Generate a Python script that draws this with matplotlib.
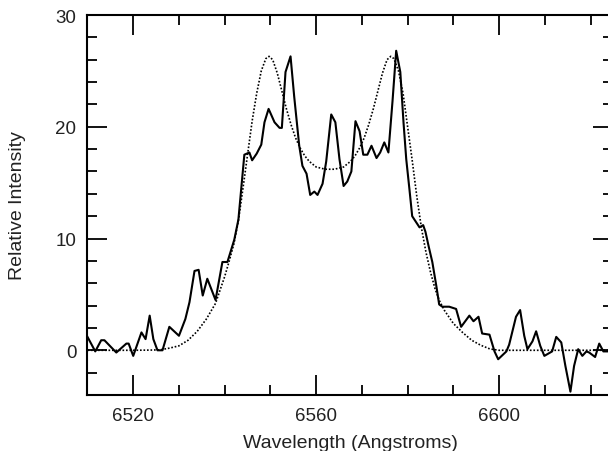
import matplotlib
matplotlib.use("Agg")
import matplotlib.pyplot as plt
from matplotlib.ticker import MultipleLocator

plt.rcParams['font.family'] = ['Liberation Sans', 'DejaVu Sans']

# observed spectrum (solid line)
obs_wave = [
    6510.0, 6511.7, 6513.0, 6513.7, 6516.3, 6518.5, 6519.0, 6520.0, 6521.8, 6522.7,
    6523.6, 6524.4, 6525.3, 6526.4, 6527.9, 6530.0, 6531.4, 6532.3, 6533.4, 6534.3,
    6535.2, 6536.2, 6538.0, 6539.5, 6540.6, 6542.1, 6543.0, 6544.3, 6545.4, 6546.0,
    6547.0, 6548.0, 6548.7, 6549.6, 6550.9, 6552.0, 6552.5, 6553.3, 6554.4, 6555.2,
    6556.3, 6557.0, 6557.9, 6558.7, 6559.6, 6560.3, 6561.4, 6562.2, 6563.3, 6564.2,
    6565.1, 6566.0, 6566.8, 6567.7, 6568.6, 6569.5, 6570.3, 6571.2, 6572.1, 6573.2,
    6574.0, 6574.9, 6575.8, 6576.7, 6577.5, 6578.4, 6579.1, 6579.7, 6580.4, 6581.0,
    6581.8, 6582.6, 6583.4, 6583.9, 6584.6, 6585.4, 6586.3, 6586.9, 6587.6, 6589.1,
    6590.6, 6591.7, 6593.5, 6594.4, 6595.5, 6596.3, 6597.9, 6599.0, 6599.8, 6601.6,
    6602.2, 6603.7, 6604.6, 6605.5, 6606.2, 6607.3, 6608.1, 6609.0, 6609.9, 6611.6,
    6612.5, 6613.6, 6614.5, 6615.6, 6616.4, 6617.3, 6618.2, 6619.1, 6619.7, 6621.0,
    6621.9, 6622.8, 6625.0,
]
obs_flux = [
    1.2, -0.1, 0.9, 0.9, -0.2, 0.6, 0.6, -0.5, 1.6, 1.0,
    3.1, 1.0, 0.0, 0.0, 2.1, 1.3, 2.8, 4.3, 7.1, 7.2,
    4.9, 6.4, 4.5, 7.9, 7.9, 9.9, 11.7, 17.5, 17.7, 17.0,
    17.6, 18.4, 20.4, 21.6, 20.4, 19.9, 19.9, 24.9, 26.3, 22.7,
    18.3, 16.5, 15.8, 13.9, 14.2, 13.9, 14.9, 16.9, 21.1, 20.4,
    17.1, 14.7, 15.1, 16.0, 20.5, 19.6, 17.5, 17.5, 18.3, 17.2,
    17.7, 18.6, 17.7, 22.3, 26.8, 24.9, 20.4, 17.1, 14.4, 12.0,
    11.5, 11.0, 11.2, 10.6, 9.3, 7.9, 5.7, 4.1, 3.9, 3.9,
    3.7, 2.1, 3.1, 2.6, 3.0, 1.5, 1.4, -0.1, -0.8, -0.1,
    0.5, 3.0, 3.6, 1.3, 0.1, 0.8, 1.7, 0.4, -0.5, -0.1,
    1.2, 0.7, -1.4, -3.7, -1.4, 0.1, -0.5, -0.1, -0.2, -0.6,
    0.6, -0.1, -0.1,
]

# model profile (dotted line)
model_wave = [
    6510, 6520, 6524, 6526, 6528, 6530, 6532, 6534, 6536, 6538,
    6540, 6541, 6542, 6543, 6544, 6545, 6546, 6547, 6548, 6549,
    6549.7, 6550.5, 6551.5, 6552.5, 6553.5, 6554.5, 6555.5, 6556.5, 6557.5, 6558.5,
    6560, 6562, 6564, 6566, 6567.5, 6568.5, 6569.5, 6570.5, 6571.5, 6572.5,
    6573.5, 6574.5, 6575.5, 6576.3, 6577, 6578, 6579, 6580, 6581, 6582,
    6583, 6584, 6585, 6586, 6587, 6588, 6590, 6592, 6594, 6596,
    6598, 6600, 6625,
]
model_flux = [
    0, 0, 0.02, 0.05, 0.2, 0.4, 0.9, 1.7, 2.8, 4.2,
    6.6, 8.0, 9.5, 11.6, 14.5, 17.5, 20.5, 23.0, 25.0, 26.1,
    26.3, 26.0, 24.8, 23.2, 21.6, 20.2, 19.0, 18.1, 17.4, 16.9,
    16.4, 16.2, 16.2, 16.4, 16.9, 17.4, 18.1, 19.0, 20.2, 21.6,
    23.2, 24.8, 26.0, 26.3, 26.1, 25.0, 23.0, 20.0, 17.0, 13.8,
    11.0, 8.8, 7.0, 5.5, 4.4, 3.6, 2.4, 1.6, 0.9, 0.45,
    0.12, 0, 0,
]

fig = plt.figure(figsize=(6.08, 4.52), dpi=100)
ax = fig.add_axes([0.1439, 0.1239, 0.865, 0.8407])

ax.plot(model_wave, model_flux, color='black', linestyle=(0, (1, 1.1)), linewidth=1.2)
ax.plot(obs_wave, obs_flux, color='black', linewidth=1.5)

ax.set_xlim(6510, 6625)
ax.set_ylim(-4, 30)
ax.xaxis.set_major_locator(MultipleLocator(40))
ax.xaxis.set_minor_locator(MultipleLocator(10))
ax.yaxis.set_major_locator(MultipleLocator(10))
ax.yaxis.set_minor_locator(MultipleLocator(2))

ax.tick_params(which='both', direction='in', top=True, right=True, width=1.3, colors='black',
               labelcolor='#222222', labelsize=13.5)
ax.tick_params(which='major', length=14.5)
ax.tick_params(which='minor', length=7.5)
ax.tick_params(axis='x', pad=8.5)
ax.tick_params(axis='y', pad=8)

for s in ax.spines.values():
    s.set_linewidth(1.5)

ax.set_xlabel('Wavelength (Angstroms)', fontsize=14, color='#222222', labelpad=7)
ax.set_ylabel('Relative Intensity', fontsize=14, color='#222222', labelpad=21)

fig.savefig('out.png', dpi=100)
